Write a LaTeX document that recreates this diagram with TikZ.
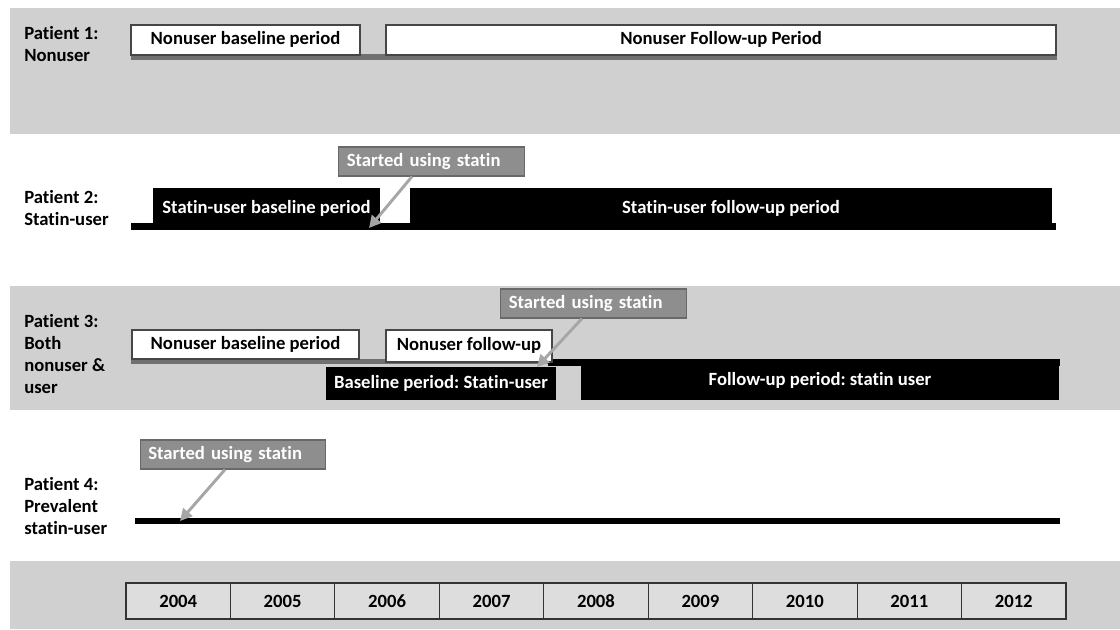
\documentclass[tikz,border=0pt]{standalone}
\usepackage{fontspec}
\setmainfont{Carlito}[Ligatures=NoCommon]
\frenchspacing
\usetikzlibrary{arrows.meta,calc}
\definecolor{bandgray}{RGB}{208,208,208}
\definecolor{cellgray}{RGB}{221,221,221}
\definecolor{bargray}{RGB}{112,112,112}
\definecolor{notegray}{RGB}{142,142,142}
\definecolor{noteborder}{RGB}{105,105,105}
\definecolor{arrowgray}{RGB}{166,166,166}
\definecolor{boxborder}{RGB}{70,70,70}
\begin{document}
\begin{tikzpicture}[x=0.75pt,y=-0.75pt,
  txt/.style={font=\fontsize{14}{16.5}\selectfont\bfseries},
  lbl/.style={txt, anchor=north west, inner sep=0pt, align=left},
  wbox/.style={txt, draw=boxborder, line width=1pt, fill=white, inner sep=0pt, text height=9.5pt, text depth=2.5pt},
  bbox/.style={txt, fill=black, text=white, inner sep=0pt, text height=9.5pt, text depth=2.5pt},
  note/.style={txt, draw=noteborder, line width=0.8pt, fill=notegray, text=white,
    inner xsep=6pt, inner ysep=0pt, text width=127pt, align=left, minimum height=21.75pt,
    text height=9.5pt, text depth=2.5pt},
  arr/.style={draw=arrowgray, line width=2.2pt, -{Triangle[length=9pt,width=9pt]}},
  yearcell/.style={txt, draw=black!80, line width=0.8pt, fill=cellgray, inner sep=0pt,
    minimum width=78.33pt, minimum height=27pt, text height=9.5pt, text depth=0pt}
]
\useasboundingbox (0,0) rectangle (1120,629);
% bands
\fill[bandgray] (10,8) rectangle (1120,134);
\fill[bandgray] (10,286) rectangle (1120,410);
\fill[bandgray] (10,561) rectangle (1120,629);

% Patient 1
\node[lbl] (l1) at (24,26) {Patient 1:\\Nonuser};
\fill[bargray] (131,54) rectangle (1057,60);
\node[wbox, minimum width=171.75pt, minimum height=22.5pt] (p1b) at (245.5,40) {Nonuser baseline period};
\node[wbox, minimum width=502.5pt, minimum height=22.5pt] (p1f) at (721,40) {Nonuser Follow-up Period};

% Patient 2
\node[lbl] (l2) at (24,190) {Patient 2:\\Statin-user};
\fill[black] (131,223) rectangle (1056,230);
\node[bbox, minimum width=170.25pt, minimum height=30.75pt] (p2b) at (266.5,208.5) {Statin-user baseline period};
\node[bbox, minimum width=481.5pt, minimum height=30.75pt] (p2f) at (731,208.5) {Statin-user follow-up period};
\node[note] (n2) at (431.5,161.5) {Started using statin};
\coordinate (t2) at (369,228);
\draw[arr] ($(n2.south)+(-19.5,0)$) -- (t2);

% Patient 3
\node[lbl] (l3) at (24,314) {Patient 3:\\Both\\nonuser \&\\user};
\fill[bargray] (131,359) rectangle (550,364);
\fill[black] (548,359) rectangle (1060,366);
\node[wbox, minimum width=170.25pt, minimum height=21.75pt] (p3b) at (245.5,344.5) {Nonuser baseline period};
\node[wbox, minimum width=124.5pt, minimum height=24pt] (p3f) at (469,346) {Nonuser follow-up};
\node[bbox, minimum width=172.5pt, minimum height=24.75pt] (p3sb) at (441,383.5) {Baseline period: Statin-user};
\node[bbox, minimum width=358.5pt, minimum height=29.25pt] (p3sf) at (820,380.5) {Follow-up period: statin user};
\node[note] (n3) at (593.5,303.5) {Started using statin};
\coordinate (t3) at (537,367);
\draw[arr] ($(n3.south)+(-11.5,0)$) -- (t3);

% Patient 4
\node[lbl] (l4) at (24,477) {Patient 4:\\Prevalent\\statin-user};
\fill[black] (135,518) rectangle (1060,524);
\node[note] (n4) at (233,454.5) {Started using statin};
\coordinate (t4) at (180,521);
\draw[arr] ($(n4.south)+(-8,0)$) -- (t4);

% Years
\foreach \yr [count=\i from 0] in {2004,2005,2006,2007,2008,2009,2010,2011,2012}{
  \node[yearcell] (y\yr) at ({126+104.44*\i+52.22},601) {\yr};
}
\end{tikzpicture}
\end{document}
